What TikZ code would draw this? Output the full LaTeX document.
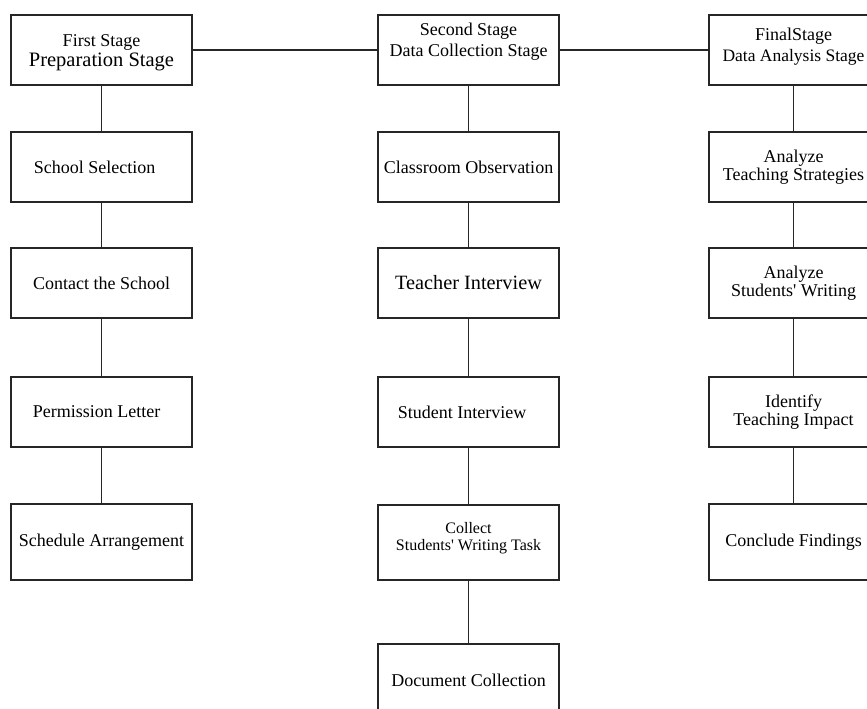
\documentclass[tikz,border=0pt]{standalone}
\usepackage{fontspec}
\setmainfont{Liberation Serif}
\newcommand{\liftup}[2]{\raisebox{0pt}[\height][\dimexpr\depth+#1\relax]{\begin{tabular}{@{}c@{}}#2\end{tabular}}}
\newcommand{\dropdown}[2]{\raisebox{0pt}[\dimexpr\height+#1\relax][\depth]{\begin{tabular}{@{}c@{}}#2\end{tabular}}}
\tikzset{
  box/.style={draw=black!85, line width=1.1pt, fill=white, inner sep=0pt,
    minimum width=181pt, minimum height=70pt, align=center,
    font=\fontsize{18}{18.5}\selectfont},
  rbox/.style={box, minimum width=169pt},
  conn/.style={draw=black!85, line width=1.1pt}
}
\begin{document}
\begin{tikzpicture}[x=1pt,y=-1pt]
\useasboundingbox (0,0) rectangle (867,709);
\fill[white] (0,0) rectangle (867,709);
% left column
\node[box, font=\fontsize{18}{20.5}\selectfont] (L0) at (101.5,50) {\dropdown{5pt}{First Stage\\{\fontsize{20.5}{21}\selectfont Preparation Stage}}};
\node[box] (L1) at (101.5,167) {School Selection\hspace*{14pt}};
\node[box] (L2) at (101.5,283) {Contact the School};
\node[box] (L3) at (101.5,412) {Permission Letter\hspace*{10pt}};
\node[box, minimum height=76pt] (L4) at (101.5,542) {Schedule Arrangement};
% middle column
\node[box, font=\fontsize{18}{20}\selectfont] (M0) at (468.5,50) {\liftup{16pt}{Second Stage\\Data Collection Stage}};
\node[box] (M1) at (468.5,167) {Classroom Observation};
\node[box, font=\fontsize{20.3}{22}\selectfont] (M2) at (468.5,283) {Teacher Interview};
\node[box] (M3) at (468.5,412) {Student Interview\hspace*{13pt}};
\node[box, minimum height=75pt, font=\fontsize{16}{17}\selectfont] (M4) at (468.5,542.5) {\liftup{8pt}{Collect\\Students\textquotesingle{} Writing Task}};
\node[box, minimum height=72pt] (M5) at (468.5,680) {Document Collection};
% right column
\node[rbox, font=\fontsize{18}{21}\selectfont] (R0) at (793.5,50) {\liftup{6pt}{FinalStage\\{\fontsize{17.5}{21}\selectfont Data Analysis Stage}}};
\node[rbox] (R1) at (793.5,167) {Analyze\\Teaching Strategies};
\node[rbox] (R2) at (793.5,283) {Analyze\\Students\textquotesingle{} Writing};
\node[rbox] (R3) at (793.5,412) {Identify\\Teaching Impact};
\node[rbox, minimum height=76pt] (R4) at (793.5,542) {Conclude Findings};
% connectors
\draw[conn] (L0) -- (M0);
\draw[conn] (M0) -- (R0);
\draw[conn] (L0) -- (L1);
\draw[conn] (L1) -- (L2);
\draw[conn] (L2) -- (L3);
\draw[conn] (L3) -- (L4);
\draw[conn] (M0) -- (M1);
\draw[conn] (M1) -- (M2);
\draw[conn] (M2) -- (M3);
\draw[conn] (M3) -- (M4);
\draw[conn] (M4) -- (M5);
\draw[conn] (R0) -- (R1);
\draw[conn] (R1) -- (R2);
\draw[conn] (R2) -- (R3);
\draw[conn] (R3) -- (R4);
\end{tikzpicture}
\end{document}
